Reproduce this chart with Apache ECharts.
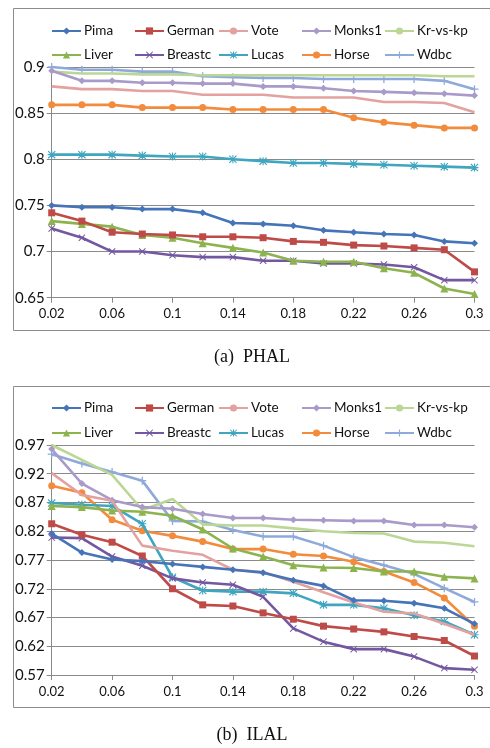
<!DOCTYPE html>
<html>
<head>
<meta charset="utf-8">
<script src="https://cdn.jsdelivr.net/npm/echarts@6/dist/echarts.min.js"></script>
<style>html,body{margin:0;padding:0;background:#fff;}#c{width:490px;height:748px;}</style>
</head>
<body>
<div id="c"></div>
<script>
const categories = ['0.02','0.04','0.06','0.08','0.1','0.12','0.14','0.16','0.18','0.2','0.22','0.24','0.26','0.28','0.3'];
const seriesNames = ['Pima','German','Vote','Monks1','Kr-vs-kp','Liver','Breastc','Lucas','Horse','Wdbc'];

// (a) PHAL
const pimaA    = [0.750,0.748,0.748,0.746,0.746,0.742,0.731,0.730,0.728,0.723,0.721,0.719,0.718,0.711,0.709];
const germanA  = [0.742,0.733,0.721,0.719,0.718,0.716,0.716,0.715,0.711,0.710,0.707,0.706,0.704,0.702,0.678];
const voteA    = [0.879,0.876,0.876,0.874,0.874,0.870,0.870,0.870,0.867,0.867,0.867,0.862,0.862,0.861,0.851];
const monks1A  = [0.896,0.885,0.885,0.883,0.883,0.882,0.882,0.879,0.879,0.877,0.874,0.873,0.872,0.871,0.869];
const krA      = [0.895,0.893,0.893,0.892,0.892,0.891,0.891,0.891,0.891,0.891,0.891,0.891,0.891,0.890,0.890];
const liverA   = [0.733,0.730,0.727,0.718,0.715,0.709,0.704,0.699,0.690,0.689,0.689,0.682,0.677,0.660,0.654];
const breastcA = [0.725,0.715,0.700,0.700,0.696,0.694,0.694,0.690,0.690,0.687,0.687,0.686,0.683,0.669,0.669];
const lucasA   = [0.805,0.805,0.805,0.804,0.803,0.803,0.800,0.798,0.796,0.796,0.795,0.794,0.793,0.792,0.791];
const horseA   = [0.859,0.859,0.859,0.856,0.856,0.856,0.854,0.854,0.854,0.854,0.845,0.840,0.837,0.834,0.834];
const wdbcA    = [0.900,0.897,0.897,0.895,0.895,0.890,0.889,0.888,0.888,0.887,0.887,0.887,0.887,0.885,0.876];

// (b) ILAL
const pimaB    = [0.816,0.783,0.771,0.768,0.763,0.758,0.753,0.748,0.735,0.725,0.700,0.699,0.695,0.686,0.659];
const germanB  = [0.833,0.814,0.801,0.777,0.720,0.692,0.690,0.678,0.667,0.655,0.650,0.645,0.637,0.630,0.603];
const voteB    = [0.921,0.883,0.873,0.795,0.786,0.779,0.753,0.749,0.732,0.714,0.696,0.680,0.677,0.659,0.640];
const monks1B  = [0.963,0.903,0.874,0.862,0.859,0.850,0.843,0.843,0.840,0.839,0.838,0.838,0.831,0.831,0.827];
const krB      = [0.970,0.944,0.918,0.857,0.876,0.832,0.830,0.830,0.825,0.820,0.817,0.816,0.802,0.800,0.794];
const liverB   = [0.864,0.862,0.856,0.854,0.847,0.823,0.790,0.776,0.761,0.757,0.756,0.750,0.750,0.741,0.738];
const breastcB = [0.809,0.808,0.776,0.760,0.738,0.731,0.727,0.706,0.651,0.628,0.615,0.615,0.602,0.582,0.579];
const lucasB   = [0.869,0.866,0.864,0.833,0.740,0.717,0.715,0.715,0.712,0.692,0.692,0.686,0.674,0.663,0.640];
const horseB   = [0.899,0.887,0.840,0.821,0.812,0.802,0.789,0.789,0.780,0.777,0.767,0.750,0.731,0.704,0.655];
const wdbcB    = [0.954,0.938,0.923,0.908,0.838,0.837,0.822,0.811,0.811,0.795,0.775,0.761,0.746,0.721,0.697];

const yTicksA = {min:0.65, max:0.9, interval:0.05};
const yTicksB = {min:0.57, max:0.97, interval:0.05};
const captions = ['(a)  PHAL', '(b)  ILAL'];

const dataA = [pimaA,germanA,voteA,monks1A,krA,liverA,breastcA,lucasA,horseA,wdbcA];
const dataB = [pimaB,germanB,voteB,monks1B,krB,liverB,breastcB,lucasB,horseB,wdbcB];

const PLUS = 'path://M4.2,0H5.8V4.2H10V5.8H5.8V10H4.2V5.8H0V4.2H4.2Z';
const XMARK = 'path://M1,0L5,4L9,0L10,1L6,5L10,9L9,10L5,6L1,10L0,9L4,5L0,1Z';
const STAR = 'path://M4.3,0H5.7V4.3H10V5.7H5.7V10H4.3V5.7H0V4.3H4.3Z M1,0L5,4L9,0L10,1L6,5L10,9L9,10L5,6L1,10L0,9L4,5L0,1Z';
const styles = [
  {color:'#4674B8', symbol:'diamond', size:7},
  {color:'#BE4B48', symbol:'rect', size:7},
  {color:'#E3A1A0', symbol:'none', size:0},
  {color:'#A99BC9', symbol:'diamond', size:7},
  {color:'#BBD695', symbol:'none', size:0},
  {color:'#8CB34E', symbol:'triangle', size:8},
  {color:'#7357A0', symbol:XMARK, size:7},
  {color:'#40A6C0', symbol:STAR, size:8},
  {color:'#F38B3C', symbol:'circle', size:7},
  {color:'#8EAADB', symbol:PLUS, size:8}
];

const FONT = 'Lato, "Open Sans", sans-serif';
const fmt = v => String(parseFloat(v.toFixed(2)));

const grids = [
  {left:51.7, right:15.5, top:67, height:230.7},
  {left:51.7, right:15.5, top:445, height:230}
];

const xAxes = [0,1].map(i => ({
  type:'category', gridIndex:i, data:categories, boundaryGap:false,
  axisLine:{show:true, lineStyle:{color:'#8a8a8a', width:1}},
  axisTick:{show:true, interval:1, length:5, lineStyle:{color:'#8a8a8a'}},
  axisLabel:{interval:1, color:'#111', fontSize:13, fontFamily:FONT, margin:10},
  splitLine:{show:false}
}));
const yAxes = [yTicksA, yTicksB].map((t,i) => ({
  type:'value', gridIndex:i, min:t.min, max:t.max, interval:t.interval,
  axisLine:{show:true, lineStyle:{color:'#8a8a8a', width:1}},
  axisTick:{show:true, length:5, lineStyle:{color:'#8a8a8a'}},
  axisLabel:{color:'#111', fontSize:15, fontFamily:FONT, margin:7, formatter:fmt},
  splitLine:{show:true, lineStyle:{color:'#8a8a8a', width:1}}
}));

const series = [];
[dataA, dataB].forEach((set, gi) => {
  set.forEach((vals, si) => {
    const st = styles[si];
    series.push({
      type:'line', name:seriesNames[si], xAxisIndex:gi, yAxisIndex:gi,
      data:vals, color:st.color,
      symbol:st.symbol, symbolSize:st.size, showSymbol:st.symbol!=='none',
      lineStyle:{width:2.6, color:st.color},
      itemStyle:{color:st.color},
      emphasis:{disabled:true}, animation:false, z: 10 - si
    });
  });
});

const legendCols = [51, 134, 218, 301, 384];
const legendRows = [[24, 48], [401, 426]];
const legends = [];
[0,1].forEach(gi => {
  seriesNames.forEach((n, si) => {
    legends.push({
      data:[n], left:legendCols[si % 5], top:legendRows[gi][Math.floor(si/5)],
      padding:0, itemWidth:29, itemHeight:9, itemGap:0,
      textStyle:{color:'#111', fontSize:13.5, fontFamily:FONT, padding:[0,0,0,-2]},
      selectedMode:false
    });
  });
});

const option = {
  animation:false,
  backgroundColor:'#fff',
  grid:grids, xAxis:xAxes, yAxis:yAxes, series:series, legend:legends,
  graphic:[
    {type:'rect', shape:{x:13.5, y:8.5, width:500, height:322}, style:{fill:'none', stroke:'#8c8c8c', lineWidth:1}, silent:true, z:-1},
    {type:'rect', shape:{x:13.5, y:386.5, width:500, height:321}, style:{fill:'none', stroke:'#8c8c8c', lineWidth:1}, silent:true, z:-1},
    {type:'text', x:252, y:357, style:{text:captions[0], font:'18px "Liberation Serif", "Times New Roman", serif', fill:'#111', align:'center', verticalAlign:'middle'}},
    {type:'text', x:252, y:735, style:{text:captions[1], font:'18px "Liberation Serif", "Times New Roman", serif', fill:'#111', align:'center', verticalAlign:'middle'}}
  ]
};
const chart = echarts.init(document.getElementById('c'), null, {renderer:'canvas'});
chart.setOption(option);
</script>
</body>
</html>
